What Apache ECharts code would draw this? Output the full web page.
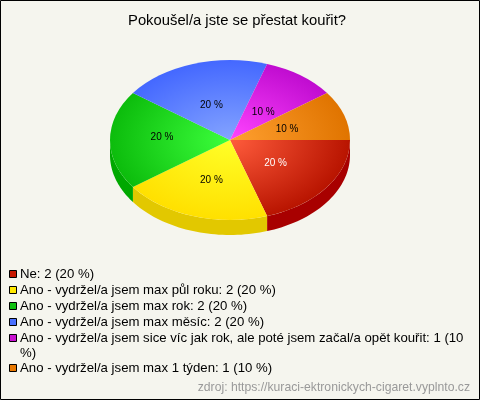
<!DOCTYPE html>
<html>
<head>
<meta charset="utf-8">
<style>
html, body { margin: 0; padding: 0; background: #f5f5ee; }
#main { width: 480px; height: 400px; }
</style>
<script src="https://cdn.jsdelivr.net/npm/echarts@6/dist/echarts.min.js"></script>
</head>
<body>
<div id="main"></div>
<script>
var categories = [
	'Ne',
	'Ano - vydržel/a jsem max půl roku',
	'Ano - vydržel/a jsem max rok',
	'Ano - vydržel/a jsem max měsíc',
	'Ano - vydržel/a jsem sice víc jak rok, ale poté jsem začal/a opět kouřit',
	'Ano - vydržel/a jsem max 1 týden'
];
var values = [2, 2, 2, 2, 1, 1];

var legendColors = ['#c81800', '#ffe800', '#10c010', '#4a70ff', '#c810d0', '#e87800'];
var innerColors = ['#ff5c3c', '#ffff28', '#3cff3c', '#84a4ff', '#ff44ff', '#ffa030'];
var outerColors = ['#b81400', '#ffe000', '#0cbc0c', '#4468ff', '#c00cd0', '#e07400'];
var sideColors = ['#a80000', '#e2c800', '#00a800', '#2848c0', '#9000a0', '#b05000'];
var labelColors = ['#fff', '#000', '#000', '#000', '#000', '#000'];

// stred a rozmery elipsy
var cx = 230, cy = 140, rx = 120, ry = 80, depth = 15;
// doladeni popisku oproti stredu vysece
var labelDx = [-3, 0, -8, 0, -2, 0];
var labelDy = [-2, 0, -5, 1, 3, 0];
// radky legendy (horni okraj ctverecku)
var legendRows = [270, 286, 302, 318, 334, 364];

var total = values.reduce(function(a, b) { return a + b; }, 0);
var legendNames = categories.map(function(name, i) {
	return name + ': ' + values[i] + ' (' + Math.round(values[i] / total * 100) + ' %)';
});

function sliceStart(i) {
	var sum = 0;
	for (var k = 0; k < i; k++) sum += values[k];
	return sum / total * Math.PI * 2;
}

// bok kolace - jen predni cast (0 az 180 stupnu)
function renderSide(params, api) {
	var i = api.value(0);
	var a0 = sliceStart(i);
	var a1 = a0 + values[i] / total * Math.PI * 2;
	a1 = Math.min(a1, Math.PI);
	if (a0 >= Math.PI) return null;
	var top = [], bottom = [];
	for (var s = 0; s <= 40; s++) {
		var a = a0 + (a1 - a0) * s / 40;
		var x = cx + Math.cos(a) * rx;
		var y = cy + Math.sin(a) * ry;
		top.push([x, y]);
		bottom.unshift([x, y + depth]);
	}
	return {
		type: 'polygon',
		shape: { points: top.concat(bottom) },
		style: { fill: sideColors[i] }
	};
}

function renderTop(i) {
	return function() {
		var a0 = sliceStart(i);
		var a1 = a0 + values[i] / total * Math.PI * 2;
		var mid = (a0 + a1) / 2;
		return {
			type: 'group',
			children: [{
				type: 'sector',
				x: cx,
				y: cy,
				scaleY: ry / rx,
				shape: { cx: 0, cy: 0, r0: 0, r: rx, startAngle: a0, endAngle: a1, clockwise: true },
				style: {
					fill: {
						type: 'radial', x: 0, y: 0, r: rx, global: true,
						colorStops: [
							{ offset: 0, color: innerColors[i] },
							{ offset: 1, color: outerColors[i] }
						]
					}
				}
			}, {
				type: 'text',
				x: cx + Math.cos(mid) * rx * 0.5 + labelDx[i],
				y: cy + Math.sin(mid) * ry * 0.5 + 2 + labelDy[i],
				z2: 10,
				style: {
					text: Math.round(values[i] / total * 100) + ' %',
					fill: labelColors[i],
					font: '10px "Liberation Sans", Arial, sans-serif',
					align: 'center',
					verticalAlign: 'middle'
				}
			}]
		};
	};
}

var series = [{
	type: 'custom',
	name: 'bok',
	coordinateSystem: 'none',
	silent: true,
	z: 1,
	data: values.map(function(v, i) { return [i]; }),
	renderItem: renderSide
}];
categories.forEach(function(name, i) {
	series.push({
		type: 'custom',
		name: legendNames[i],
		coordinateSystem: 'none',
		silent: true,
		z: 2,
		data: [[values[i]]],
		renderItem: renderTop(i)
	});
});

// legenda - ctverecek a text, dlouhy text se zalomi rucne
var graphics = [{
	type: 'rect',
	silent: true,
	z: 100,
	shape: { x: 0.5, y: 0.5, width: 479, height: 399 },
	style: { fill: 'none', stroke: '#000', lineWidth: 1 }
}];
legendNames.forEach(function(name, i) {
	graphics.push({
		type: 'rect',
		silent: true,
		shape: { x: 9.5, y: legendRows[i] + 0.5, width: 7, height: 7 },
		style: { fill: legendColors[i], stroke: '#000', lineWidth: 1 }
	});
	graphics.push({
		type: 'text',
		silent: true,
		x: 20,
		y: legendRows[i] - 3,
		style: {
			text: name.length > 70 ? name.replace(' %)', '\n%)') : name,
			fill: '#000',
			font: '13.2px "Liberation Sans", Arial, sans-serif',
			lineHeight: 15
		}
	});
});

var myChart = echarts.init(document.getElementById('main'));
myChart.setOption({
	animation: false,
	backgroundColor: '#f5f5ee',
	title: [{
		text: 'Pokoušel/a jste se přestat kouřit?',
		left: 232,
		top: 8,
		textAlign: 'center',
		textStyle: { fontFamily: 'Liberation Sans', fontSize: 14.8, fontWeight: 'normal', color: '#000' }
	}, {
		text: 'zdroj: https://kuraci-ektronickych-cigaret.vyplnto.cz',
		right: 10,
		top: 382,
		padding: 0,
		textStyle: { fontFamily: 'Liberation Sans', fontSize: 12.2, fontWeight: 'normal', color: '#999' }
	}],
	graphic: graphics,
	series: series
});
</script>
</body>
</html>
